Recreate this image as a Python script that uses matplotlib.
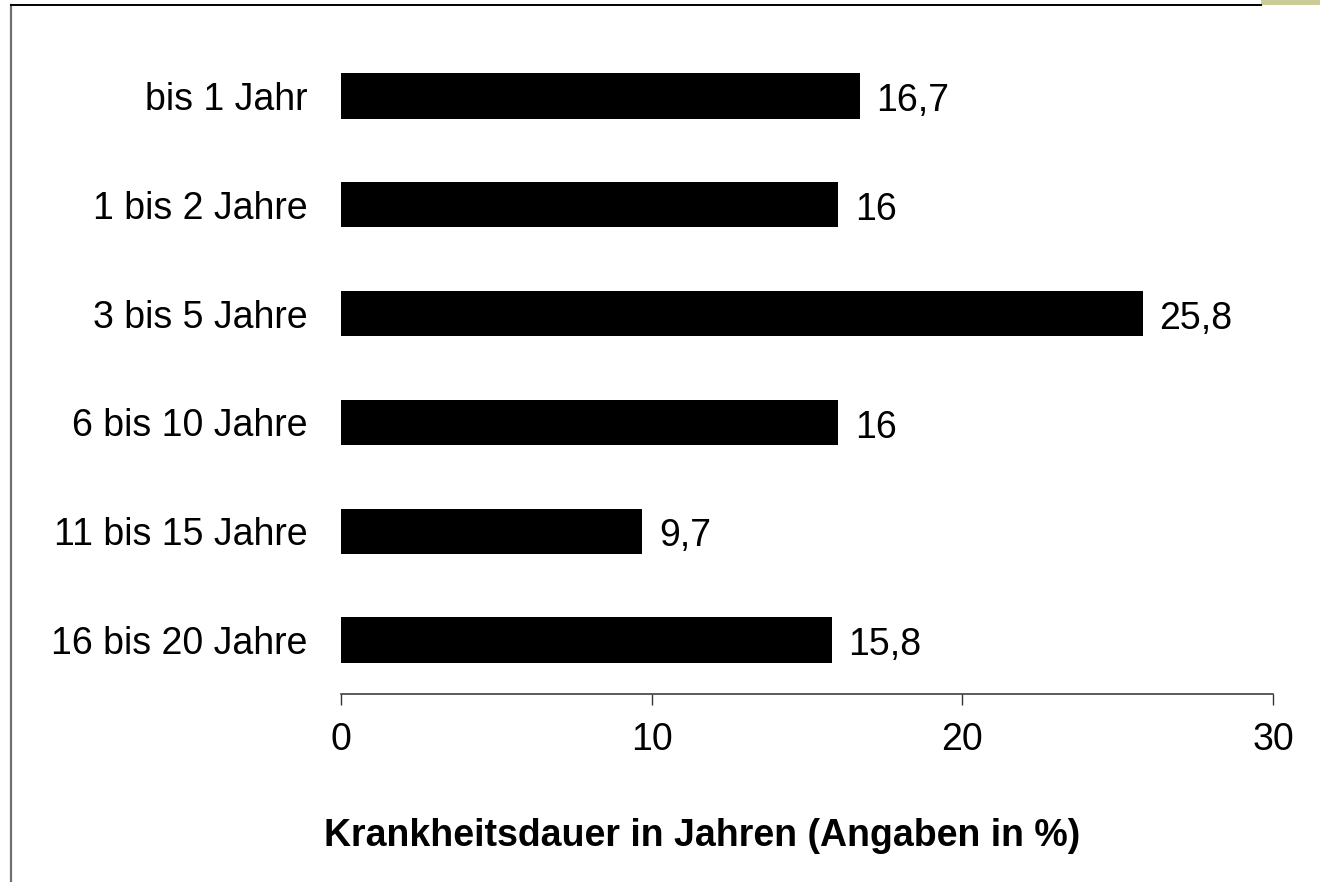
import matplotlib
matplotlib.use("Agg")
import matplotlib.pyplot as plt
from matplotlib.patches import Rectangle
from matplotlib.lines import Line2D

categories = ["bis 1 Jahr", "1 bis 2 Jahre", "3 bis 5 Jahre", "6 bis 10 Jahre",
              "11 bis 15 Jahre", "16 bis 20 Jahre"]
values = [16.7, 16, 25.8, 16, 9.7, 15.8]
value_labels = ["16,7", "16", "25,8", "16", "9,7", "15,8"]
xticks = [0, 10, 20, 30]
xlabel = "Krankheitsdauer in Jahren (Angaben in %)"

plt.rcParams['font.family'] = ['Liberation Sans', 'DejaVu Sans']
FS = 27

W, H = 1320, 882
fig = plt.figure(figsize=(W / 100, H / 100), dpi=100)
fig.patch.set_facecolor("white")

ax = fig.add_axes([341 / W, 1 - 694.4 / H, 932 / W, (694.4 - 41.6) / H])
ypos = list(range(len(categories)))
ax.barh(ypos, values, height=0.414, color="black")
ax.set_ylim(len(categories) - 0.5, -0.5)
ax.set_xlim(0, 30)
ax.set_yticks(ypos)
ax.set_yticklabels(categories, fontsize=FS)
ax.tick_params(axis="y", length=0, pad=24)
ax.set_xticks(xticks)
ax.set_xticklabels([str(t) for t in xticks], fontsize=FS)
ax.tick_params(axis="x", length=8, width=1, color="#333333", direction="out", pad=12)

for s in ["top", "right", "left"]:
    ax.spines[s].set_visible(False)
ax.spines["bottom"].set_color("#404040")
ax.spines["bottom"].set_linewidth(1.2)
ax.patch.set_alpha(0)

for y, v, lab in zip(ypos, values, value_labels):
    ax.annotate(lab, (v, y), xytext=(12, -11), textcoords="offset points",
                va="baseline", ha="left", fontsize=FS)

fig.text(702.5 / W, 1 - 846 / H, xlabel, fontsize=FS, fontweight="bold",
         ha="center", va="baseline")

# frame lines
fig.add_artist(Line2D([11 / W, 11 / W], [0, 1 - 5 / H], transform=fig.transFigure,
                      color="#707070", linewidth=1.6))
fig.add_artist(Line2D([11 / W, 1261 / W], [1 - 5 / H, 1 - 5 / H], transform=fig.transFigure,
                      color="black", linewidth=1.4))
fig.add_artist(Rectangle((1261 / W, 1 - 5 / H), 59 / W, 5 / H, transform=fig.transFigure,
                         color="#CCCC99", linewidth=0))

fig.savefig("out.png", dpi=100)
